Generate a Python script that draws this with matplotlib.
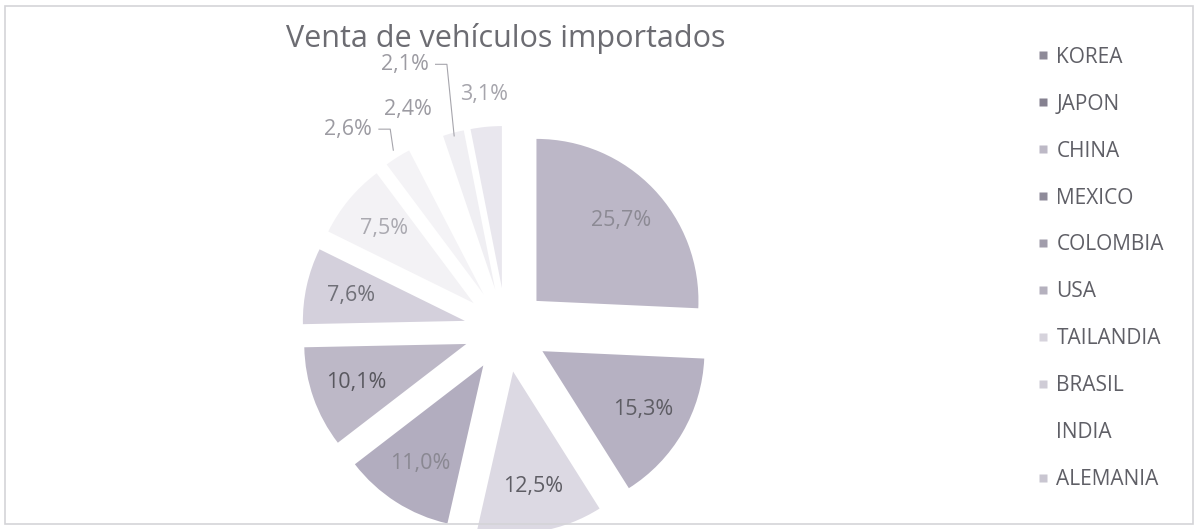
import numpy as np
import matplotlib
matplotlib.use("Agg")
import matplotlib.pyplot as plt
from matplotlib.lines import Line2D
from matplotlib.patches import Rectangle

plt.rcParams['font.family'] = ['Open Sans', 'DejaVu Sans']

# Data (clockwise from 12 o'clock)
countries = ["KOREA", "JAPON", "CHINA", "MEXICO", "COLOMBIA", "USA",
             "TAILANDIA", "BRASIL", "INDIA", "ALEMANIA", "OTRO"]
shares = [25.7, 15.3, 12.5, 11.0, 10.1, 7.6, 7.5, 2.6, 2.4, 2.1, 3.1]
in_legend = [True] * 10 + [False]

# washed-out greyish lavender tones from the scan
colors = ["#bcb7c7", "#b6b1c2", "#dcd9e3", "#b2adbf", "#bdb8c7", "#d4d0dc",
          "#f3f2f5", "#f4f3f6", "#ffffff", "#f0eff3", "#e9e7ee"]
legend_colors = ["#8e8a98", "#858190", "#bdb9c6", "#8f8b9a", "#a19dab", "#b5b1be",
                 "#d6d3dc", "#cfccd6", "#ffffff", "#c9c6d1", "#e0dee5"]
label_colors = ["#8c8a94", "#5e5d64", "#5e5d64", "#8a8892", "#58575e", "#707078",
                "#aaa9b0", "#9c9ba2", "#9c9ba2", "#9c9ba2", "#a6a5ac"]

fig = plt.figure(figsize=(11.98, 5.29), dpi=100)
ax = fig.add_axes([0, 0, 1, 1])

# pie centre at (506, 330) px, radius 162 px
R_PX = 162.0
CX, CY = 506.0, 330.0

wedges, _ = ax.pie(shares, colors=colors, startangle=90, counterclock=False,
                   explode=[0.26] * len(shares), radius=1.0,
                   wedgeprops=dict(linewidth=0))

ax.set_aspect('auto')
ax.set_xlim(-CX / R_PX, (1198 - CX) / R_PX)
ax.set_ylim((CY - 529) / R_PX, CY / R_PX)
ax.axis('off')


def fmt(v):
    return f"{v:.1f}%".replace(".", ",")


# inside labels for the big slices
for i, (w, v) in enumerate(zip(wedges, shares)):
    ang = np.deg2rad((w.theta1 + w.theta2) / 2)
    cx, cy = w.center
    if v >= 5:
        r = 0.72
        x, y = cx + r * np.cos(ang), cy + r * np.sin(ang)
        ax.text(x, y, fmt(v), ha='center', va='center', fontsize=15.5,
                color=label_colors[i])

# small slices: labels pushed outward (radius, angle nudge, leader end radius)
outer = {7: (1.577, 6.1, 1.05), 8: (1.489, 0.8, None),
         9: (1.755, 5.9, 0.98), 10: (1.458, -0.2, None)}
for i, (r, dang, lead_r) in outer.items():
    w = wedges[i]
    mid = (w.theta1 + w.theta2) / 2
    ang = np.deg2rad(mid + dang)
    cx, cy = w.center
    tx, ty = r * np.cos(ang), r * np.sin(ang)
    ax.text(tx, ty, fmt(shares[i]), ha='center', va='center', fontsize=15.5,
            color=label_colors[i])
    if lead_r is not None:
        ex = cx + lead_r * np.cos(np.deg2rad(mid))
        ey = cy + lead_r * np.sin(np.deg2rad(mid))
        sx = tx + 0.19
        ax.plot([sx, sx + 0.07, ex], [ty, ty, ey], color="#a6a5ac", lw=0.8)

ax.text(0, 1.80, "Venta de vehículos importados", ha='center', va='center',
        fontsize=22, color="#6c6c72")

handles = [Line2D([], [], linestyle='none', marker='s', markersize=6,
                  markerfacecolor=legend_colors[i], markeredgecolor='none')
           for i in range(len(countries)) if in_legend[i]]
labels = [c for c, keep in zip(countries, in_legend) if keep]
fig.legend(handles, labels, loc='upper left', bbox_to_anchor=(1019 / 1198, 1 - 28 / 529),
           frameon=False, fontsize=15, labelspacing=1.245, handlelength=0.5,
           handletextpad=0.4, labelcolor="#5f5f66")

fig.patches.append(Rectangle((5 / 1198, 5 / 529), 1188 / 1198, 518 / 529,
                             transform=fig.transFigure, fill=False,
                             edgecolor="#d4d4d8", linewidth=1.2))

fig.savefig("out.png", dpi=100)
